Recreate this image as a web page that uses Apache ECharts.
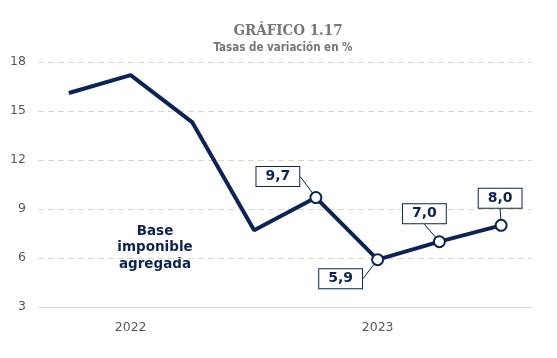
<!DOCTYPE html>
<html>
<head>
<meta charset="utf-8">
<script src="https://cdn.jsdelivr.net/npm/echarts@6/dist/echarts.min.js"></script>
<style>html,body{margin:0;padding:0;background:#fff}#c{width:557px;height:358px}</style>
</head>
<body>
<div id="c"></div>
<script>
// Data
var categories = ["I-2022", "II-2022", "III-2022", "IV-2022", "I-2023", "II-2023", "III-2023", "IV-2023"];
var yearLabels = ["", "2022", "", "", "", "2023", "", ""];
var values = [16.1, 17.2, 14.3, 7.7, 9.7, 5.9, 7.0, 8.0];
var showMarker = [false, false, false, false, true, true, true, true];
var yTicks = [3, 6, 9, 12, 15, 18];

// Label offsets (style, px)
var labelOffsets = {4: [-38, -21], 5: [-37, 19], 6: [-15, -28], 7: [-1, -27]};

var NAVY = '#0c2357';
var chart = echarts.init(document.getElementById('c'), null, {renderer: 'canvas'});

var seriesData = values.map(function (v, i) {
  var d = {value: v};
  if (!showMarker[i]) {
    d.symbol = 'none';
    d.label = {show: false};
  }
  return d;
});

chart.setOption({
  animation: false,
  backgroundColor: '#fff',
  title: [{
    text: 'GRÁFICO 1.17',
    left: 283, top: 19, textAlign: 'center',
    textStyle: {fontFamily: 'DejaVu Serif Condensed', fontWeight: 'bold', fontSize: 15, color: '#767676'}
  }, {
    text: 'Tasas de variación en %',
    left: 278, top: 37, textAlign: 'center',
    textStyle: {fontFamily: 'DejaVu Sans Condensed', fontWeight: 'bold', fontSize: 11.5, color: '#767676'}
  }],
  grid: {left: 38, right: 25, top: 62, bottom: 51},
  xAxis: {
    type: 'category',
    data: categories,
    boundaryGap: true,
    axisLine: {show: true, lineStyle: {color: '#d9d9d9', width: 1}},
    axisTick: {show: false},
    axisLabel: {
      interval: 0, margin: 14,
      color: '#595959', fontFamily: 'DejaVu Sans', fontSize: 12.5,
      formatter: function (val, idx) { return yearLabels[idx]; }
    }
  },
  yAxis: {
    type: 'value',
    min: yTicks[0], max: yTicks[yTicks.length - 1], interval: 3,
    axisLine: {show: false},
    axisTick: {show: false},
    axisLabel: {color: '#595959', fontFamily: 'DejaVu Sans', fontSize: 12.5, margin: 12},
    splitLine: {lineStyle: {color: '#ddd8c4', type: [6, 4], width: 1}}
  },
  series: [{
    type: 'line',
    data: seriesData,
    symbol: 'circle',
    symbolSize: 11,
    showAllSymbol: true,
    lineStyle: {color: NAVY, width: 4},
    itemStyle: {color: '#ffffff', borderColor: NAVY, borderWidth: 2},
    label: {
      show: true,
      position: 'top',
      formatter: function (p) { return p.value.toFixed(1).replace('.', ','); },
      fontFamily: 'DejaVu Sans', fontWeight: 'bold', fontSize: 14, color: NAVY,
      backgroundColor: '#fff', borderColor: NAVY, borderWidth: 1,
      padding: [3, 9, 2, 9]
    },
    labelLine: {show: true, lineStyle: {color: NAVY, width: 1}},
    labelLayout: function (params) {
      var off = labelOffsets[params.dataIndex];
      if (!off) return {};
      var r = params.rect;
      var cx = r.x + r.width / 2, cy = r.y + r.height / 2;
      return {x: cx + off[0], y: cy + off[1], align: 'center', verticalAlign: 'middle'};
    },
    z: 3
  }],
  graphic: [{
    type: 'text',
    x: 155, y: 223,
    style: {
      text: 'Base\nimponible\nagregada',
      align: 'center',
      verticalAlign: 'top',
      fontFamily: 'DejaVu Sans', fontWeight: 'bold', fontSize: 13.5, lineHeight: 16.5,
      fill: NAVY
    }
  }]
});
</script>
</body>
</html>
